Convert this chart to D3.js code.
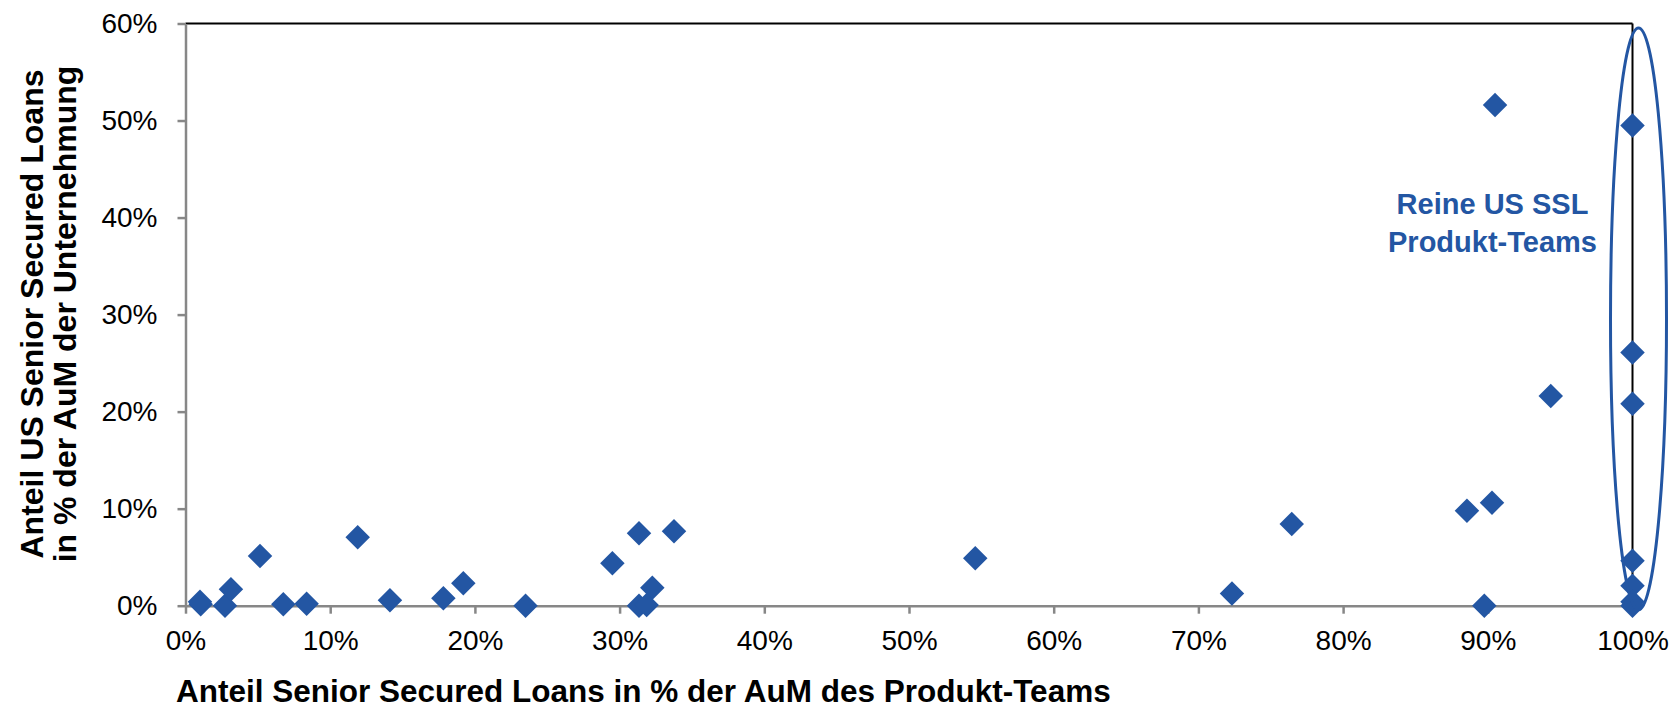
<!DOCTYPE html>
<html>
<head>
<meta charset="utf-8">
<script src="https://cdn.jsdelivr.net/npm/d3@7"></script>
<style>
  body { margin: 0; background: #fff; }
  svg { display: block; font-family: "Liberation Sans", Arial, sans-serif; }
  .axis text { font-size: 28px; fill: #000; }
  .axis line, .axis path { stroke: #878787; stroke-width: 2.5; }
  .title { font-size: 32px; font-weight: bold; fill: #000; }
</style>
</head>
<body>
<div class="chart"></div>
<script>
// Anteil SSL in % der AuM des Produkt-Teams (x) / Anteil US SSL in % der AuM der Unternehmung (y)
var teamShare = [1.05, 1.0, 2.73, 3.14, 5.15, 6.76, 8.37, 11.9, 14.13, 17.82, 19.2, 23.5,
  29.5, 31.34, 33.76, 32.26, 31.34, 31.87, 54.58, 72.32, 76.45, 88.56, 90.29, 89.76,
  90.5, 94.35, 100, 100, 100, 100, 100, 100, 100];
var firmShare = [0.14, 0.4, 0, 1.69, 5.12, 0.14, 0.2, 7.05, 0.56, 0.76, 2.31, 0,
  4.37, 7.46, 7.67, 1.86, 0, 0.07, 4.88, 1.27, 8.42, 9.79, 10.62, 0,
  51.6, 21.6, 49.5, 26.1, 20.8, 4.64, 2.06, 0.41, 0];
var xTicks = [0, 10, 20, 30, 40, 50, 60, 70, 80, 90, 100];
var yTicks = [0, 10, 20, 30, 40, 50, 60];
var yTitle = ['Anteil US Senior Secured Loans', 'in % der AuM der Unternehmung'];
var xTitle = 'Anteil Senior Secured Loans in % der AuM des Produkt-Teams';
var note = ['Reine US SSL', 'Produkt-Teams'];

var svgWidth = 1672;
var svgHeight = 708;
var margin = { top: 23.5, right: 39.5, bottom: 102.3, left: 185.5 };
var width = svgWidth - margin.left - margin.right;
var height = svgHeight - margin.top - margin.bottom;
var blue = '#2356a3';

var svg = d3.select('.chart')
  .append('svg')
  .attr('width', svgWidth)
  .attr('height', svgHeight);

var chart = svg.append('g')
  .attr('transform', 'translate(' + margin.left + ',' + margin.top + ')');

var x = d3.scaleLinear().domain([0, 100]).range([0, width]);
var y = d3.scaleLinear().domain([0, 60]).range([height, 0]);

// top and right frame
chart.append('line')
  .attr('x1', 0).attr('x2', width).attr('y1', 0).attr('y2', 0)
  .attr('stroke', '#000').attr('stroke-width', 2);
chart.append('line')
  .attr('x1', width).attr('x2', width).attr('y1', 0).attr('y2', height)
  .attr('stroke', '#000').attr('stroke-width', 2);

chart.append('g')
  .attr('class', 'axis')
  .call(d3.axisLeft(y).tickValues(yTicks).tickSize(8).tickSizeOuter(0).tickPadding(20)
    .tickFormat(function(d) { return d + '%'; }));

chart.append('g')
  .attr('class', 'axis')
  .attr('transform', 'translate(0,' + height + ')')
  .call(d3.axisBottom(x).tickValues(xTicks).tickSize(8).tickSizeOuter(0).tickPadding(16)
    .tickFormat(function(d) { return d + '%'; }));

chart.selectAll('.axis text').attr('font-family', null).attr('font-size', null);

var points = teamShare.map(function(v, i) { return { x: v, y: firmShare[i] }; });
var diamond = d3.symbol().type(d3.symbolSquare).size(300);

chart.selectAll('path.point')
  .data(points)
  .enter()
  .append('path')
  .attr('class', 'point')
  .attr('d', diamond)
  .attr('fill', blue)
  .attr('transform', function(d) {
    return 'translate(' + x(d.x) + ',' + y(d.y) + ') rotate(45)';
  });

// circle around the pure US SSL teams
chart.append('ellipse')
  .attr('cx', x(100) + 6)
  .attr('cy', (y(0) + 4 + y(60) + 4.5) / 2)
  .attr('rx', 28)
  .attr('ry', (y(0) + 4 - y(60) - 4.5) / 2)
  .attr('fill', 'none')
  .attr('stroke', blue)
  .attr('stroke-width', 3);

chart.append('text')
  .attr('x', x(100) - 140)
  .attr('y', 190)
  .attr('text-anchor', 'middle')
  .attr('fill', blue)
  .style('font-size', '29px')
  .style('font-weight', 'bold')
  .selectAll('tspan')
  .data(note)
  .enter()
  .append('tspan')
  .attr('x', x(100) - 140)
  .attr('dy', function(d, i) { return i === 0 ? 0 : 38; })
  .text(function(d) { return d; });

svg.append('text')
  .attr('class', 'title')
  .attr('x', 176)
  .attr('y', 702)
  .style('font-size', '31.5px')
  .text(xTitle);

var yt = svg.append('text')
  .attr('class', 'title')
  .attr('transform', 'translate(43,314) rotate(-90)')
  .attr('text-anchor', 'middle');
yt.selectAll('tspan')
  .data(yTitle)
  .enter()
  .append('tspan')
  .attr('x', 0)
  .attr('y', function(d, i) { return i * 33; })
  .text(function(d) { return d; });
</script>
</body>
</html>
